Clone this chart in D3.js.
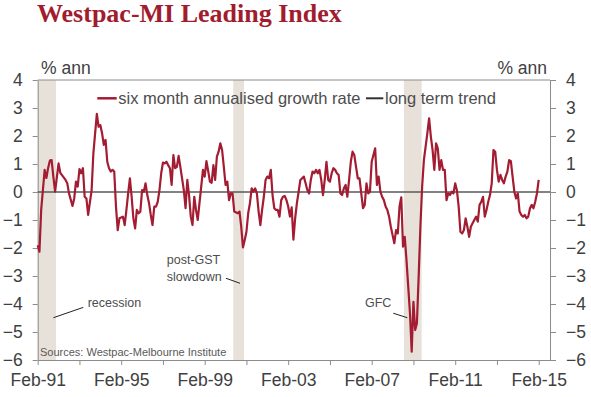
<!DOCTYPE html>
<html>
<head>
<meta charset="utf-8">
<title>Westpac-MI Leading Index</title>
<script src="https://d3js.org/d3.v7.min.js"></script>
<style>
    body { margin: 0; background: #fff; font-family: "Liberation Sans", Arial, sans-serif; }
    .axis text { font-size: 17.5px; fill: #404040; font-family: "Liberation Sans", Arial, sans-serif; }
    .axis path, .axis line { stroke: #8c8c8c; }
</style>
</head>
<body>
<svg id="chart" width="591" height="397"></svg>
<script>
// months after Feb-91, and six month annualised growth rate (% ann)
const months = [
    0, 1, 2, 4, 5, 6, 7, 8, 9, 10, 12, 13, 16, 17, 18, 20, 21, 22, 23, 24,
    25, 26, 27, 28, 29, 31, 32, 34, 35, 36, 37, 38, 39, 40, 41, 42, 43, 44, 45, 46,
    47, 49, 50, 51, 52, 53, 54, 55, 56, 57, 58, 59, 60, 61, 62, 63, 64, 65, 66, 67,
    68, 69, 70, 71, 72, 73, 74, 75, 76, 77, 78, 79, 80, 81, 82, 84, 85, 86, 87, 88,
    89, 90, 91, 92, 93, 94, 95, 96, 97, 98, 99, 100, 101, 102, 103, 104, 105, 106, 107, 108,
    109, 110, 111, 112, 113, 115, 116, 117, 118, 119, 120, 121, 122, 123, 124, 125, 126, 127, 128, 129,
    130, 131, 132, 133, 134, 135, 136, 137, 138, 139, 140, 141, 142, 143, 144, 145, 146, 147, 148, 149,
    150, 151, 153, 154, 155, 156, 157, 158, 159, 160, 161, 162, 163, 164, 165, 166, 167, 168, 169, 170,
    171, 172, 173, 174, 175, 176, 177, 178, 179, 180, 181, 182, 183, 184, 185, 186, 187, 188, 189, 190,
    191, 192, 193, 194, 195, 196, 197, 198, 199, 200, 201, 202, 203, 204, 205, 206, 207, 208, 209, 210,
    211, 212, 213, 214, 215, 216, 217, 218, 219, 220, 221, 222, 223, 224, 225, 226, 227, 228, 229, 230,
    231, 232, 233, 234, 235, 236, 237, 238, 239, 240, 241, 242, 243, 244, 245, 246, 247, 248, 249, 250,
    251, 252, 253, 254, 255, 256, 257, 258, 259, 260, 261, 262, 263, 264, 265, 266, 267, 268, 269, 270,
    271, 272, 273, 274, 275, 276, 277, 278, 279, 280, 281, 282, 283, 284, 285, 286, 287, 288
];
const growth = [
    -1.90, -2.13, -0.64, 0.79, 0.50, 0.86, 1.12, 1.14, 0.55, 0.01, 1.02, 0.68, 0.43, 0.31, -0.05, -0.50, -0.23, 0.37, 0.19, 0.82,
    0.67, 0.85, -0.17, -0.23, -0.82, 0.07, 1.38, 2.79, 2.33, 2.39, 2.10, 1.68, 1.86, 1.08, 0.85, 0.73, 0.79, 0.73, -0.52, -1.36,
    -0.94, -0.88, -1.18, -0.64, -0.05, 0.49, -0.17, -0.94, -1.30, -0.64, -0.76, -0.70, 0.07, 0.01, 0.31, -0.11, -0.40, -0.82, -1.18, -0.52,
    -0.52, -0.35, 0.07, 0.67, 1.05, 1.02, 1.08, 0.96, 0.85, 0.25, 1.32, 0.85, 0.90, 1.29, 0.90, 0.07, -0.58, 0.43, -0.11, -0.88,
    -1.18, -0.17, -0.64, -1.00, -0.40, 0.19, 0.79, 0.55, 1.10, 0.75, 0.37, 0.33, 0.96, 0.43, 1.26, 1.44, 1.74, 1.50, 0.90, 0.25,
    0.37, -0.29, -0.05, -0.05, -0.70, -0.76, -0.70, -1.24, -1.98, -1.71, -1.42, -0.76, -0.40, 0.13, 0.01, 0.13, -0.05, -0.70, -1.18, -0.64,
    -0.17, 0.43, 0.55, 0.49, 0.79, -0.11, -0.58, -0.64, -0.64, -0.88, -0.29, -0.17, -0.14, -0.29, -0.52, -0.88, -0.55, -1.70, -0.94, -0.40,
    0.01, 0.43, 0.55, 0.31, 0.07, -0.05, 0.43, 0.73, 0.67, 0.79, 0.67, 0.79, 0.43, -0.11, 0.43, 1.08, 0.43, 0.37, 0.67, 0.85,
    0.79, 0.67, 0.61, -0.05, -0.11, 0.13, 0.25, -0.17, 0.43, 1.08, 1.44, 1.32, 0.90, 0.49, 0.49, -0.05, -0.58, -0.46, 0.31, -0.05,
    0.01, 1.08, 1.32, 1.56, 0.25, 0.55, 0.01, -0.17, -0.29, -0.52, -0.64, -0.88, -1.24, -1.54, -1.83, -1.36, -1.48, -0.52, -0.19, -1.95,
    -1.60, -2.43, -3.38, -4.33, -5.70, -3.92, -4.93, -4.69, -3.02, -1.24, 0.19, 1.14, 1.62, 2.10, 2.63, 1.98, 1.50, 0.79, 1.74, 1.56,
    0.79, 1.14, 0.79, 0.79, -0.29, -0.05, -0.11, 0.01, -0.05, 0.31, 0.05, -0.52, -1.42, -1.48, -1.36, -0.94, -1.24, -1.60, -1.24, -1.12,
    -1.00, -0.88, -1.06, -0.46, -0.35, -0.17, -0.88, -0.64, -0.35, -0.11, 0.31, 1.50, 1.44, 0.79, 0.37, 0.61, 0.43, 0.31, 0.55, 0.73,
    1.14, 1.10, 0.55, 0.01, -0.23, -0.05, -0.70, -0.82, -0.88, -0.82, -0.94, -0.88, -0.58, -0.46, -0.58, -0.35, -0.05, 0.43
];

// shaded periods, in months after Feb-91
const bandNames = ["recession", "post-GST slowdown", "GFC"];
const bandStart = [0, 112.4, 210.5];
const bandEnd = [10.5, 118.6, 220.7];

const yTicks = [-6, -5, -4, -3, -2, -1, 0, 1, 2, 3, 4];
const xTickMonths = [0, 24, 48, 72, 96, 120, 144, 168, 192, 216, 240, 264, 288];
const xLabelMonths = [0, 48, 96, 144, 192, 240, 288];
const xLabels = ["Feb-91", "Feb-95", "Feb-99", "Feb-03", "Feb-07", "Feb-11", "Feb-15"];

const red = "#a31c32";
const svg = d3.select("#chart");

let x = d3.scaleLinear().domain([0, 294.5]).range([37.7, 550]);
let y = d3.scaleLinear().domain([-6, 4]).range([360, 80]);

// title
svg.append("text")
    .attr("x", 37)
    .attr("y", 22)
    .style("font-family", "'Liberation Serif', 'Times New Roman', serif")
    .style("font-weight", "bold")
    .style("font-size", "26px")
    .style("fill", "#a01c2e")
    .text("Westpac-MI Leading Index");

// shaded periods
svg.append("g").selectAll("rect")
    .data(bandNames)
    .enter()
    .append("rect")
    .attr("x", (d, i) => x(bandStart[i]))
    .attr("width", (d, i) => x(bandEnd[i]) - x(bandStart[i]))
    .attr("y", y(4))
    .attr("height", y(-6) - y(4))
    .attr("fill", "#e8e1da");

// axes
svg.append("g")
    .attr("class", "axis")
    .attr("transform", "translate(" + x.range()[0] + ",0)")
    .call(d3.axisLeft(y).tickValues(yTicks).tickSize(5).tickSizeOuter(0).tickPadding(10));

svg.append("g")
    .attr("class", "axis")
    .attr("transform", "translate(" + x.range()[1] + ",0)")
    .call(d3.axisRight(y).tickValues(yTicks).tickSize(6).tickSizeOuter(0).tickPadding(10));

svg.append("g")
    .attr("class", "axis")
    .attr("transform", "translate(0," + y(-6) + ")")
    .call(d3.axisBottom(x).tickValues(xTickMonths).tickSize(5).tickSizeOuter(0).tickPadding(9)
        .tickFormat(m => {
            let k = xLabelMonths.indexOf(m);
            return k < 0 ? "" : xLabels[k];
        }));

// top border
svg.append("line")
    .attr("x1", x.range()[0]).attr("x2", x.range()[1])
    .attr("y1", y(4)).attr("y2", y(4))
    .attr("stroke", "#8c8c8c");

// zero line
svg.append("line")
    .attr("x1", x.range()[0]).attr("x2", x.range()[1])
    .attr("y1", y(0)).attr("y2", y(0))
    .attr("stroke", "#595959")
    .attr("stroke-width", 1.5);

// growth line
let line = d3.line()
    .x(i => x(months[i]))
    .y(i => y(growth[i]));

svg.append("path")
    .datum(d3.range(months.length))
    .attr("d", line)
    .attr("fill", "none")
    .attr("stroke", red)
    .attr("stroke-width", 2.2)
    .attr("stroke-linejoin", "round");

// unit labels
svg.append("text").attr("x", 41).attr("y", 74)
    .style("font-size", "17.5px").style("fill", "#404040").text("% ann");
svg.append("text").attr("x", 547).attr("y", 74).attr("text-anchor", "end")
    .style("font-size", "17.5px").style("fill", "#404040").text("% ann");

// legend
let legend = svg.append("g").style("font-size", "16.5px").style("fill", "#4d4d4d");
legend.append("line").attr("x1", 97.3).attr("x2", 116.7).attr("y1", 98.3).attr("y2", 98.3)
    .attr("stroke", red).attr("stroke-width", 2.5);
legend.append("text").attr("x", 118.3).attr("y", 104).text("six month annualised growth rate");
legend.append("line").attr("x1", 366).attr("x2", 383.3).attr("y1", 98.3).attr("y2", 98.3)
    .attr("stroke", "#333").attr("stroke-width", 2);
legend.append("text").attr("x", 385).attr("y", 104).text("long term trend");

// annotations
let notes = svg.append("g").style("font-size", "12.5px").style("fill", "#4d4d4d");
notes.append("text").attr("x", x(28.7)).attr("y", y(-4.12)).text("recession");
notes.append("line").attr("x1", x(9)).attr("y1", y(-4.49)).attr("x2", x(26.2)).attr("y2", y(-4.12))
    .attr("stroke", "#222").attr("stroke-width", 1);
notes.append("text").attr("x", x(74.2)).attr("y", y(-2.57)).text("post-GST");
notes.append("text").attr("x", x(74.2)).attr("y", y(-3.17)).text("slowdown");
notes.append("line").attr("x1", x(108.2)).attr("y1", y(-3.08)).attr("x2", x(116.3)).attr("y2", y(-3.26))
    .attr("stroke", "#222").attr("stroke-width", 1);
notes.append("text").attr("x", x(188.1)).attr("y", y(-4.12)).text("GFC");
notes.append("line").attr("x1", x(204.4)).attr("y1", y(-4.33)).attr("x2", x(212.5)).attr("y2", y(-4.49))
    .attr("stroke", "#222").attr("stroke-width", 1);

svg.append("text").attr("x", 40).attr("y", 356)
    .style("font-size", "11px").style("fill", "#595959")
    .text("Sources: Westpac-Melbourne Institute");
</script>
</body>
</html>
